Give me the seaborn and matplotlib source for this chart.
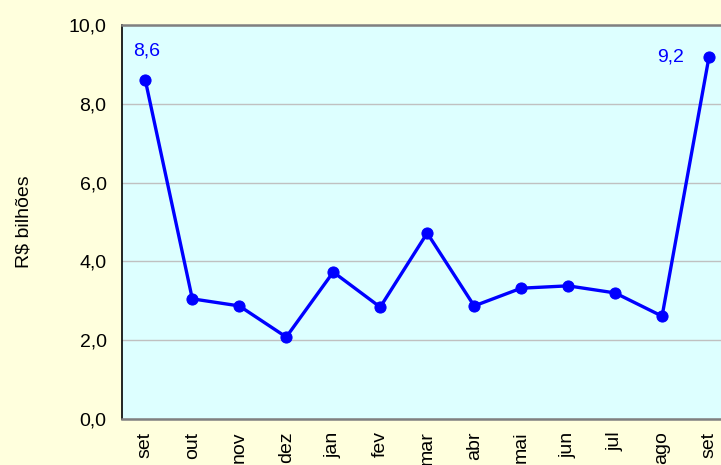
import matplotlib
matplotlib.use("Agg")
import matplotlib.pyplot as plt
import seaborn as sns
import pandas as pd

# monthly values, R$ billions
months = ["set", "out", "nov", "dez", "jan", "fev", "mar", "abr", "mai", "jun", "jul", "ago", "set"]
values = [8.6, 3.05, 2.87, 2.08, 3.73, 2.84, 4.72, 2.87, 3.32, 3.38, 3.20, 2.61, 9.2]
yticks = [0, 2, 4, 6, 8, 10]

df = pd.DataFrame({"pos": range(len(months)), "valor": values})

sns.set_style("white")
plt.rcParams["font.family"] = ["Liberation Sans", "DejaVu Sans"]
plt.rcParams["text.color"] = "black"
plt.rcParams["xtick.color"] = "black"
plt.rcParams["ytick.color"] = "black"
plt.rcParams["axes.labelcolor"] = "black"

fig = plt.figure(figsize=(7.21, 4.65), dpi=100)
fig.patch.set_facecolor("#FFFFDD")
ax = fig.add_axes([0.169, 0.099, 0.847, 0.847])
ax.set_facecolor("#DDFFFF")

sns.lineplot(data=df, x="pos", y="valor", ax=ax, color="#0000FF", linewidth=2.4,
             marker="o", markersize=8, markeredgecolor="#0000FF")

ax.set_xlim(-0.5, len(months) - 0.5)
ax.set_ylim(0, 10)
ax.set_yticks(yticks)
ax.set_yticklabels([f"{v:.1f}".replace(".", ",") for v in yticks], fontsize=14)
ax.set_xticks(range(len(months)))
ax.set_xticklabels(months, rotation=90, va="top", fontsize=14)
ax.tick_params(axis="x", length=0, pad=9)
ax.tick_params(axis="y", length=5, width=1, color="black", pad=6)
ax.yaxis.grid(True, color="#C0C0C0", linewidth=1)
ax.set_axisbelow(True)

ax.set_xlabel("")
ax.set_ylabel("R$ bilhões", fontsize=14, labelpad=26)

for side in ["top", "bottom", "right"]:
    ax.spines[side].set_color("#808080")
    ax.spines[side].set_linewidth(1.8)
ax.spines["left"].set_color("black")
ax.spines["left"].set_linewidth(1.2)

# data labels on first and last point
ax.annotate(f"{values[0]:.1f}".replace(".", ","), (0, values[0]), xytext=(1, 21),
            textcoords="offset points", ha="center", va="center", color="#0000FF", fontsize=14)
ax.annotate(f"{values[-1]:.1f}".replace(".", ","), (len(values) - 1, values[-1]), xytext=(-28, 0),
            textcoords="offset points", ha="center", va="center", color="#0000FF", fontsize=14)

fig.savefig("out.png", dpi=100, facecolor=fig.get_facecolor())
